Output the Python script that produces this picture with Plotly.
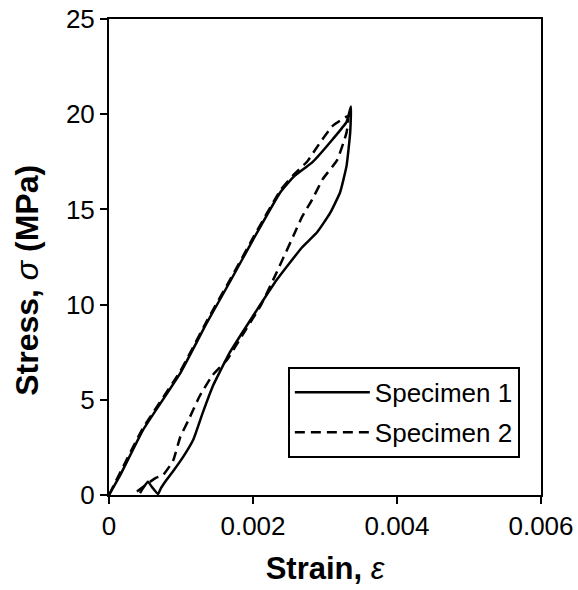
import plotly.graph_objects as go

# Specimen 1 (solid): loading then unloading
s1_x = [0, 0.00015, 0.00047, 0.00099, 0.00136, 0.00168, 0.00200, 0.00238, 0.00256,
        0.00283, 0.00311, 0.00330, 0.00336,
        0.00335, 0.00330, 0.00321, 0.00307, 0.00289, 0.00268, 0.00233, 0.00200,
        0.00168, 0.00144, 0.00130, 0.00117, 0.00103, 0.00090, 0.00080,
        0.00072, 0.00068, 0.00060, 0.00054, 0.00048, 0.00043]
s1_y = [0, 1.0, 3.4, 6.4, 9.05, 11.2, 13.4, 15.9, 16.7,
        17.5, 18.7, 19.6, 20.4,
        19.05, 17.3, 15.9, 14.8, 13.8, 13.0, 11.3, 9.4,
        7.5, 5.7, 4.3, 2.9, 2.0, 1.3, 0.8,
        0.35, 0.05, 0.4, 0.7, 0.4, 0.1]

# Specimen 2 (dashed): loading then unloading
s2_x = [0, 0.00047, 0.00099, 0.00136, 0.00168, 0.00200, 0.00238, 0.00256, 0.00275,
        0.00293, 0.00311, 0.00332,
        0.00330, 0.00317, 0.00297, 0.00282, 0.00268, 0.00256, 0.00228, 0.00210,
        0.00182, 0.00164, 0.00144, 0.00126, 0.00110, 0.00099, 0.00089, 0.00075,
        0.00065, 0.00050, 0.00032]
s2_y = [0, 3.5, 6.5, 9.15, 11.3, 13.5, 16.0, 16.8, 17.5,
        18.5, 19.4, 19.9,
        19.05, 17.6, 16.6, 15.5, 14.6, 13.6, 11.3, 9.9,
        8.2, 7.1, 6.3, 5.2, 3.9, 3.05, 1.8, 1.05,
        0.9, 0.5, 0.0]

x_ticks = [0, 0.002, 0.004, 0.006]
x_tick_labels = ["0", "0.002", "0.004", "0.006"]
y_ticks = [0, 5, 10, 15, 20, 25]

FONT = "Liberation Sans, Arial, sans-serif"

fig = go.Figure()
fig.add_trace(go.Scatter(x=s1_x, y=s1_y, mode="lines", name="Specimen 1", legendgroup="s1",
                         line=dict(color="black", width=2.5, shape="spline", smoothing=0.4)))
fig.add_trace(go.Scatter(x=s2_x, y=s2_y, mode="lines", name="Specimen 2", legendgroup="s2",
                         line=dict(color="black", width=2.5, dash="10px,6px",
                                   shape="spline", smoothing=0.4)))

axis_common = dict(showline=True, linecolor="black", linewidth=2, mirror=True,
                   ticks="outside", ticklen=7, tickwidth=2, tickcolor="black",
                   showgrid=False, zeroline=False, automargin=False,
                   tickfont=dict(family=FONT, size=26, color="black"))

fig.update_layout(
    width=578, height=590,
    margin=dict(l=109, r=37, t=19, b=95),
    paper_bgcolor="white", plot_bgcolor="white",
    font=dict(family=FONT, color="black"),
    xaxis=dict(range=[0, 0.006], tickvals=x_ticks, ticktext=x_tick_labels,
               title=dict(text="<b>Strain, </b><i>ε</i>", font=dict(family=FONT, size=31), standoff=17),
               **axis_common),
    yaxis=dict(range=[0, 25], tickvals=y_ticks, **axis_common),
    annotations=[dict(text="<b>Stress, </b><i>σ</i><b> (MPa)</b>", textangle=-90,
                      xref="paper", yref="paper", x=-0.19, y=0.452,
                      xanchor="center", yanchor="middle", showarrow=False,
                      font=dict(family=FONT, size=32, color="black"))],
    legend=dict(x=0.414, y=0.269, xanchor="left", yanchor="top",
                bordercolor="black", borderwidth=2, bgcolor="white",
                font=dict(family=FONT, size=26, color="black"),
                itemwidth=75, tracegroupgap=3),
    showlegend=True,
)

fig.write_html("out.html")
